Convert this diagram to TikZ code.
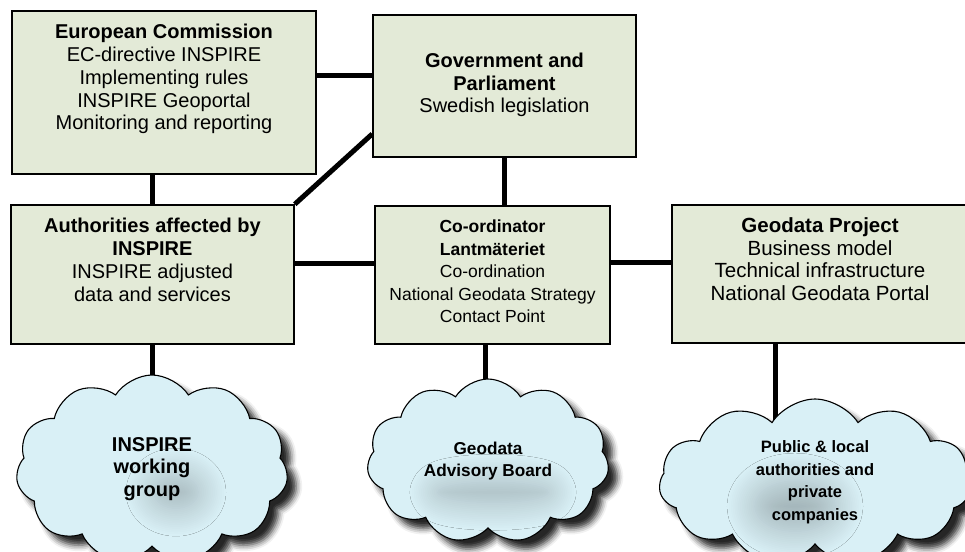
\documentclass[tikz,border=0pt]{standalone}
\usepackage{fontspec}
\setmainfont{Liberation Sans}
\usetikzlibrary{shapes.symbols,shadows.blur,backgrounds}
\definecolor{boxgreen}{HTML}{E3EAD7}
\definecolor{cloudblue}{HTML}{D9F0F6}

\begin{document}
\begin{tikzpicture}[x=1pt, y=-1pt,
        panel/.style = {draw, line width=1.6pt, fill=boxgreen, inner sep=0pt},
        txt/.style = {align=center, inner sep=0pt, font=\fontsize{20}{22.75}\selectfont},
        link/.style = {line width=5pt},
        glow/.style = {blur shadow={shadow xshift=0pt, shadow yshift=0pt, shadow blur radius=28pt,
            shadow blur steps=16, shadow opacity=25}},
        cloudy/.style = {cloud, cloud puffs=11, cloud puff arc=115, cloud ignores aspect,
            draw, line width=1.1pt, fill=cloudblue, align=center, inner sep=0pt,
            blur shadow={shadow xshift=9pt, shadow yshift=-9pt, shadow blur radius=6pt, shadow opacity=85}}]

    \useasboundingbox (0,0) rectangle (965,551);

    % Boxes
    \node[panel, minimum width=304pt, minimum height=163pt] (ec) at (164,92.5) {};
    \node[panel, minimum width=263pt, minimum height=142pt] (gov) at (504.5,86) {};
    \node[panel, minimum width=283pt, minimum height=139pt] (auth) at (152.5,274.5) {};
    \node[panel, minimum width=235pt, minimum height=138pt] (coord) at (492.5,275) {};
    \node[panel, minimum width=296pt, minimum height=138pt] (geo) at (820,274) {};

    % Box texts
    \node[txt, anchor=north, yshift=-14pt] (ectxt) at (ec.north)
        {{\bfseries European Commission}\\EC-directive INSPIRE\\Implementing rules\\INSPIRE Geoportal\\Monitoring and reporting};
    \node[txt, yshift=1pt] (govtxt) at (gov.center)
        {{\bfseries Government and}\\{\bfseries Parliament}\\Swedish legislation};
    \node[txt, anchor=north, yshift=-14pt] (authtxt) at (auth.north)
        {{\bfseries Authorities affected by}\\{\bfseries INSPIRE}\\INSPIRE adjusted\\data and services};
    \node[txt, anchor=north, yshift=-14.5pt, font=\fontsize{17.5}{22.6}\selectfont] (coordtxt) at (coord.north)
        {{\bfseries Co-ordinator}\\{\bfseries Lantmäteriet}\\Co-ordination\\National Geodata Strategy\\Contact Point};
    \node[txt, anchor=north, yshift=-13.5pt, font=\fontsize{20.5}{22.5}\selectfont] (geotxt) at (geo.north)
        {{\bfseries Geodata Project}\\Business model\\Technical infrastructure\\National Geodata Portal};

    % Clouds
    \node[cloudy, minimum width=272pt, minimum height=188pt, font=\fontsize{20}{22.5}\selectfont\bfseries,
        path picture={\path[glow]
            ([shift={(24,24)}]path picture bounding box.center) ellipse [x radius=22, y radius=16];}]
        (wg) at (152,469) {INSPIRE\\working\\group};
    \node[cloudy, minimum width=242pt, minimum height=164pt, font=\fontsize{17.2}{22}\selectfont\bfseries,
        path picture={\path[glow]
            ([shift={(5,32)}]path picture bounding box.center) ellipse [x radius=55, y radius=10];}]
        (board) at (488,461) {Geodata\\Advisory Board};
    \node[cloudy, minimum width=312pt, minimum height=166pt, font=\fontsize{16.5}{22.5}\selectfont\bfseries,
        path picture={\path[glow]
            ([shift={(-20,25)}]path picture bounding box.center) ellipse [x radius=40, y radius=25];}]
        (users) at (815,482) {Public \& local\\authorities and\\private\\companies};

    % Connectors
    \begin{scope}[on background layer]
        \draw[link] (ec.east |- 0,75) -- (gov.west |- 0,75);
        \draw[link] (ec.south -| auth.north) -- (auth.north);
        \draw[link] (auth.north east) -- (gov.west |- 0,134);
        \draw[link] (gov.south) -- (gov.south |- coord.north);
        \draw[link] (auth.east |- 0,263) -- (coord.west |- 0,263);
        \draw[link] (coord.east |- 0,262) -- (geo.west |- 0,262);
        \draw[link] (auth.south) -- (auth.south |- wg.center);
        \draw[link] (coord.south -| 485,0) -- (board.center -| 485,0);
        \draw[link] (geo.south -| 775,0) -- (users.center -| 775,0);
    \end{scope}

\end{tikzpicture}
\end{document}
